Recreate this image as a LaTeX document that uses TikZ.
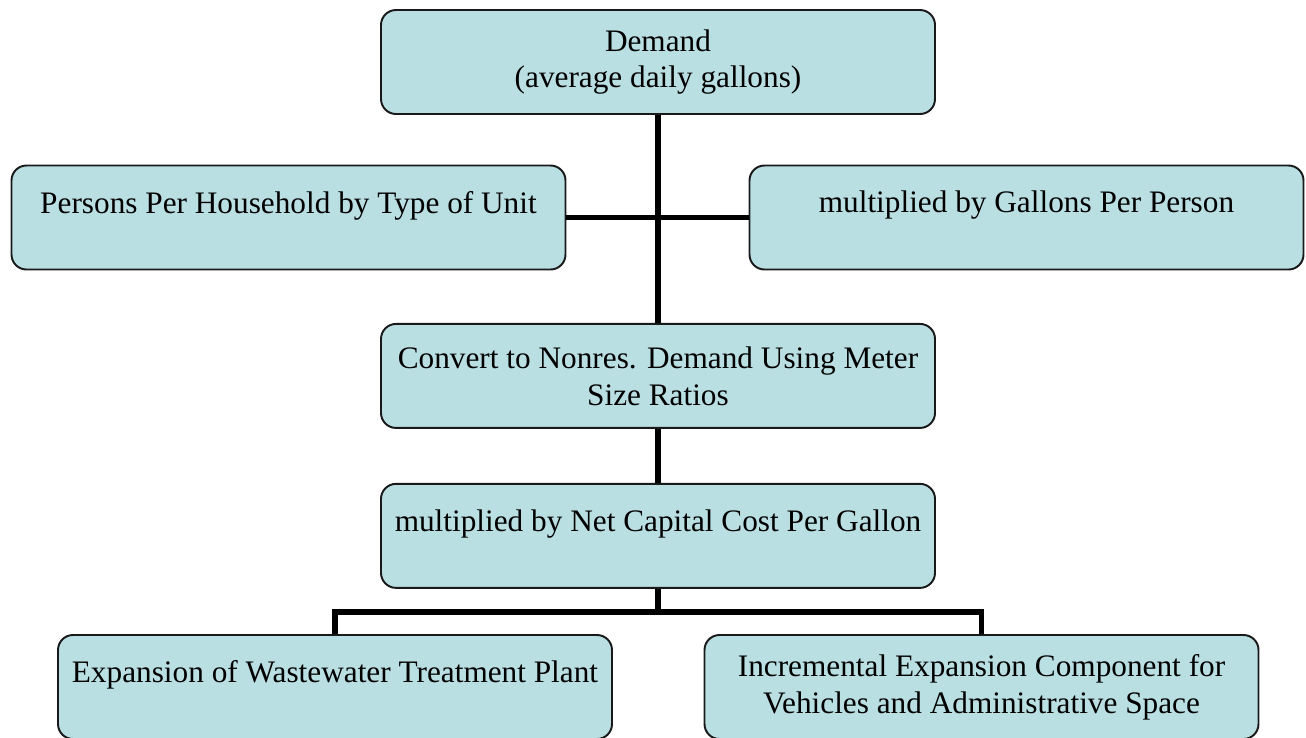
\documentclass[tikz,border=0pt]{standalone}
\usepackage{fontspec}
\setmainfont{Liberation Serif}
\usetikzlibrary{positioning}
\definecolor{boxfill}{RGB}{185,223,227}

\begin{document}
\begin{tikzpicture}[mybox/.style={draw=black!90, line width=1.1pt, fill=boxfill, rounded corners=0.3cm, minimum width=11.08cm, minimum height=2.08cm, align=center, inner sep=0pt}, oneline/.style={text depth=0.62cm}, trunk/.style={line width=3.3pt, black}, every node/.style={font=\fontsize{17.8}{21}\selectfont}]

  \useasboundingbox (0,0) rectangle (26.12,-14.74);

  \node[mybox] (demand) at (13.16,-1.24) {Demand\\(average daily gallons)};
  \node[mybox, oneline] (persons) at (5.77,-4.35) {Persons Per Household by Type of Unit};
  \node[mybox, oneline] (gallons) at (20.53,-4.35) {multiplied by Gallons Per Person};
  \node[mybox] (convert) [below = 4.16cm of demand] {Convert to Nonres. Demand Using Meter\\Size Ratios};
  \node[mybox, oneline] (netcost) [below = 1.08cm of convert] {multiplied by Net Capital Cost Per Gallon};
  \node[mybox, oneline] (expansion) at (6.70,-13.74) {Expansion of Wastewater Treatment Plant};
  \node[mybox] (incremental) at (19.63,-13.74) {Incremental Expansion Component for\\Vehicles and Administrative Space};
  \coordinate[below = 0.46cm of netcost] (split);

  \draw[trunk] (demand) -- (convert);
  \draw[trunk] (persons) -- (gallons);
  \draw[trunk] (convert) -- (netcost);
  \draw[trunk] (netcost) -- (split);
  \draw[trunk] (expansion) |- (split) -| (incremental);
\end{tikzpicture}
\end{document}
